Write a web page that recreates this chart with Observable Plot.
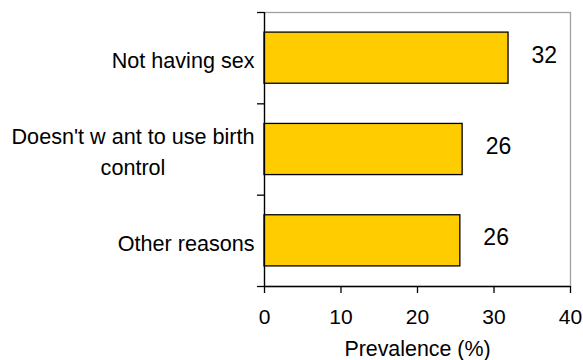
<!DOCTYPE html>
<html>
<head>
<meta charset="utf-8">
<script src="https://cdn.jsdelivr.net/npm/d3@7"></script>
<script src="https://cdn.jsdelivr.net/npm/@observablehq/plot@0.6"></script>
<style>
  html, body { margin: 0; padding: 0; background: #fff; }
  svg { display: block; }
</style>
</head>
<body>
<div id="chart"></div>
<script>
// ---- data ----
const categories = ["Not having sex", "Doesn't w ant to use birth\ncontrol", "Other reasons"];
const values = [31.9, 25.9, 25.6];
const xTicks = [0, 10, 20, 30, 40];
const xLabel = "Prevalence (%)";

const data = categories.map((c, i) => ({cat: c, idx: i, value: values[i]}));

const FONT = "Liberation Sans, Arial, sans-serif";
const FS = 21;
const CAT_FS = 21.6;

// measure label widths so multi-line labels are centred as a block, right-aligned to the axis
const ctx = document.createElement("canvas").getContext("2d");
ctx.font = `${CAT_FS}px Liberation Sans`;
const blockWidth = (s) => Math.max(...s.split("\n").map(l => ctx.measureText(l).width));

const catMarks = data.map(d =>
  Plot.text([d], {
    x: 0,
    y: d.idx + 0.5,
    text: "cat",
    textAnchor: "middle",
    lineAnchor: "middle",
    lineHeight: 1.44,
    dx: -(blockWidth(d.cat) / 2 + 10),
    fontSize: CAT_FS,
    fill: "#000"
  })
);

const chart = Plot.plot({
  width: 583,
  height: 360,
  marginLeft: 264,
  marginRight: 13,
  marginTop: 12,
  marginBottom: 74,
  style: {fontFamily: FONT, fontSize: FS + "px", color: "#000", background: "#fff"},
  x: {domain: [0, 40], label: null},
  y: {domain: [3, 0], label: null},
  marks: [
    Plot.frame({stroke: "#a0a0a0", strokeWidth: 1.3}),
    Plot.rectX(data, {
      x1: 0,
      x2: "value",
      y1: d => d.idx + 0.22,
      y2: d => d.idx + 0.78,
      fill: "#FFCC00",
      stroke: "#000",
      strokeWidth: 1.3
    }),
    Plot.ruleX([0], {stroke: "#000", strokeWidth: 1.3}),
    Plot.ruleY([3], {stroke: "#000", strokeWidth: 1.3}),
    Plot.axisY({ticks: d3.range(0, categories.length + 1), tickSize: 7, tickFormat: () => "", stroke: "#000", strokeWidth: 1.3}),
    Plot.axisX({ticks: xTicks, tickSize: 7, tickPadding: 16, fontSize: FS, stroke: "#000", strokeWidth: 1.3, label: null}),
    ...catMarks,
    Plot.text(data, {
      x: "value",
      y: d => d.idx + 0.5,
      text: d => String(Math.round(d.value)),
      textAnchor: "start",
      lineAnchor: "middle",
      dx: 23,
      dy: -3,
      fontSize: 23,
      fill: "#000"
    }),
    Plot.text([xLabel], {
      frameAnchor: "bottom",
      text: d => d,
      lineAnchor: "middle",
      dy: 63,
      fontSize: 21.4,
      fill: "#000"
    })
  ]
});

document.getElementById("chart").appendChild(chart);
</script>
</body>
</html>
